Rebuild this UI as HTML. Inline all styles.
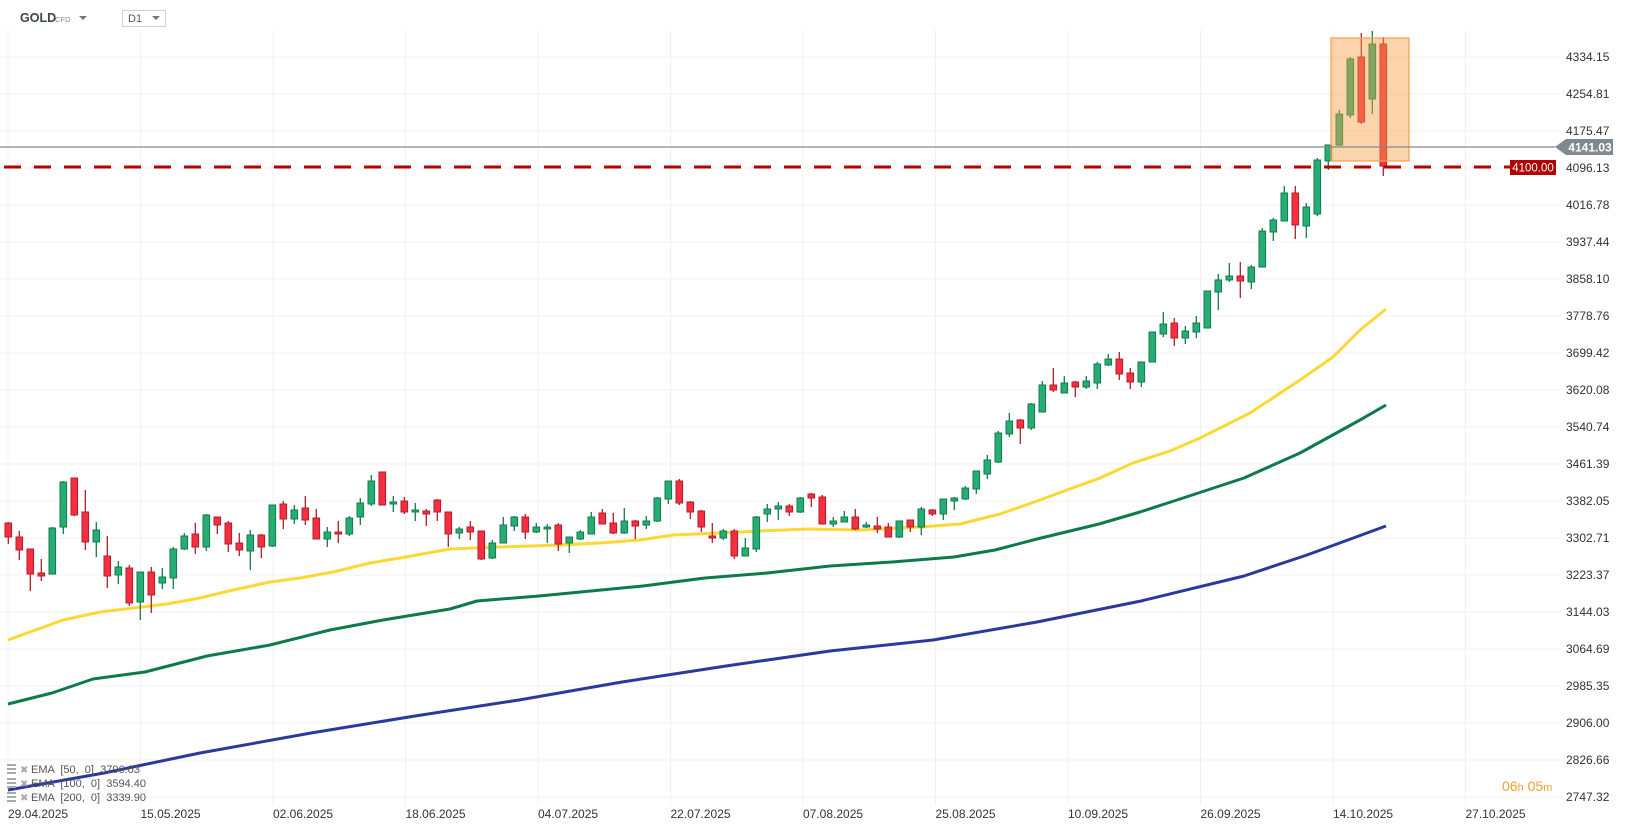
<!DOCTYPE html>
<html><head><meta charset="utf-8"><style>
html,body{margin:0;padding:0;background:#fff;}
body{width:1626px;height:831px;overflow:hidden;font-family:"Liberation Sans",sans-serif;}
svg{position:absolute;left:0;top:0;}
</style></head><body>
<svg id="c" width="1626" height="831" xmlns="http://www.w3.org/2000/svg" font-family="Liberation Sans, sans-serif"></svg>
<script>
const S=document.getElementById('c');let h='';
for(let k=0;k<=20;k++){const y=57+37*k;h+=`<line x1="0" y1="${y}" x2="1560" y2="${y}" stroke="#f0f0f0" stroke-width="1"/>`;}
for(let i=0;i<12;i++){const x=8+132.5*i;h+=`<line x1="${x}" y1="30" x2="${x}" y2="805" stroke="#f0f0f0" stroke-width="1"/>`;}
const prices=["4334.15","4254.81","4175.47","4096.13","4016.78","3937.44","3858.10","3778.76","3699.42","3620.08","3540.74","3461.39","3382.05","3302.71","3223.37","3144.03","3064.69","2985.35","2906.00","2826.66","2747.32"];
prices.forEach((p,k)=>{h+=`<text x="1566" y="${57+37*k+4}" font-size="12" fill="#333">${p}</text>`;});
const dates=["29.04.2025","15.05.2025","02.06.2025","18.06.2025","04.07.2025","22.07.2025","07.08.2025","25.08.2025","10.09.2025","26.09.2025","14.10.2025","27.10.2025"];
dates.forEach((d,i)=>{h+=`<text x="${8+132.5*i}" y="818" font-size="12" fill="#333">${d}</text>`;});
function pl(pts,c){return `<polyline points="${pts.map(p=>p.join(',')).join(' ')}" fill="none" stroke="${c}" stroke-width="3" stroke-linejoin="round"/>`;}
h+=pl([[8,790],[104,773],[200,753],[311,733],[415,716],[519,700],[622,682],[726,666],[830,651],[933,640],[1037,622],[1141,601],[1244,576],[1307,555],[1386,526]],"#2a3a9c");
h+=pl([[8,704],[52,693],[93,679],[145,672],[207,656],[270,645],[330,630],[383,620],[450,609],[477,601],[539,596],[591,591],[643,586],[705,578],[767,573],[830,566],[892,562],[954,557],[995,550],[1037,539],[1099,524],[1140,512],[1177,500],[1244,478],[1300,453],[1360,420],[1386,405]],"#0d7a4a");
h+=pl([[8,640],[41,628],[63,620],[100,612],[133,608],[167,604],[200,598],[233,590],[270,582],[300,578],[333,572],[370,563],[400,558],[450,549],[500,547],[560,545],[600,543],[640,540],[673,535],[720,533],[760,531],[807,529],[860,530],[920,527],[960,524],[1000,514],[1040,500],[1067,490],[1100,478],[1133,463],[1170,451],[1200,438],[1250,413],[1300,380],[1333,357],[1360,330],[1386,309]],"#fdd835");
const C=[[523,537,522,544],[537,550,531,560],[549,574,549,591],[573,576,559,581],[574,528,527,574],[527,482,481,534],[478,515,478,516],[512,542,490,550],[542,530,522,557],[556,576,536,588],[575,567,561,584],[568,603,565,606],[602,572,572,620],[572,595,567,613],[583,577,568,589],[578,549,547,589],[549,536,533,550],[534,547,523,554],[547,515,514,551],[517,525,517,534],[523,544,521,552],[543,550,533,556],[551,535,530,570],[535,547,534,558],[546,505,505,547],[504,519,501,529],[519,510,505,524],[508,520,496,525],[518,539,509,539],[539,532,527,547],[532,534,521,543],[534,518,516,536],[517,503,498,525],[504,481,475,506],[472,505,472,505],[504,502,496,512],[501,512,497,514],[512,510,503,521],[511,514,509,526],[500,512,499,521],[512,534,512,547],
[533,529,527,539],[527,532,521,540],[531,559,531,560],[558,543,540,559],[543,525,517,543],[526,517,516,531],[517,532,514,539],[532,527,523,533],[529,527,524,543],[525,544,523,551],[543,537,537,553],[539,532,530,540],[534,517,512,534],[513,524,509,524],[523,533,513,534],[533,521,508,534],[521,526,520,539],[525,521,516,529],[521,498,497,522],[499,481,481,504],[481,503,479,505],[502,512,501,519],[511,527,510,532],[536,538,523,543],[538,531,529,540],[531,556,529,559],[556,548,538,556],[549,517,516,552],[514,509,504,522],[509,506,502,520],[506,512,504,516],[512,498,497,513],[494,498,493,507],[497,524,495,524],[524,521,517,527],[522,517,511,522],[517,529,509,530],[527,525,522,528],[526,529,517,533],[527,537,523,537],[537,521,521,538],[520,527,520,532],
[527,509,507,535],[510,514,509,516],[514,499,499,520],[501,498,497,510],[499,488,486,500],[489,471,471,494],[474,460,455,479],[462,433,431,463],[434,421,413,437],[420,428,419,444],[428,404,403,430],[412,385,381,412],[385,390,368,392],[393,383,376,393],[382,387,381,397],[387,381,376,389],[383,364,362,389],[365,359,354,366],[359,374,352,380],[373,382,368,389],[382,362,362,387],[362,332,332,362],[334,324,312,337],[323,338,318,346],[338,331,326,344],[332,323,316,338],[328,291,291,328],[292,280,274,310],[280,276,263,282],[276,281,262,298],[282,267,265,289],[267,231,228,267],[232,220,218,241],[221,193,186,221],[193,225,186,239],[226,207,203,238],[214,160,158,216],[161,145,145,170],[145,114,110,146],[115,59,57,118],[57,122,33,124],[99,44,31,114],[44,166,37,176]];
C.forEach((c,i)=>{const x=8.3+11*i;const [o,cl,hi,lo]=c;const up=cl<=o;const f=up?"#25ad73":"#f62f40",s=up?"#147a4e":"#b01e2c";
const t=Math.min(o,cl),b=Math.max(Math.max(o,cl)-t,1.5);
h+=`<line x1="${x}" y1="${hi}" x2="${x}" y2="${lo}" stroke="${s}" stroke-width="1.3"/><rect x="${x-3.3}" y="${t}" width="6.6" height="${b}" fill="${f}" stroke="${s}" stroke-width="1"/>`;});
h+=`<rect x="1331" y="38" width="78" height="123" fill="rgba(246,160,72,0.45)" stroke="#f2a04a" stroke-width="1.2"/>`;
h+=`<line x1="0" y1="147" x2="1555" y2="147" stroke="#7f8a8f" stroke-width="1.2"/>`;
h+=`<line x1="4" y1="167" x2="1510" y2="167" stroke="#b30000" stroke-width="3" stroke-dasharray="17,13"/>`;
h+=`<rect x="1510" y="160" width="46" height="15" fill="#b30000"/><text x="1533" y="171.5" font-size="11.5" fill="#fff" text-anchor="middle">4100.00</text>`;
h+=`<path d="M1555,147 L1566,139 L1613,139 L1613,155 L1566,155 Z" fill="#7f8a8f"/><text x="1590" y="151.5" font-size="12" font-weight="bold" fill="#fff" text-anchor="middle">4141.03</text>`;
h+=`<text x="20" y="22" font-size="12.5" font-weight="bold" fill="#3a4652">GOLD</text><text x="55" y="22" font-size="7.5" fill="#888">CFD</text><path d="M79,16 L87,16 L83,20 Z" fill="#777"/>`;
h+=`<rect x="122.5" y="10.5" width="43" height="16" fill="#fff" stroke="#d0d0d0"/><text x="128" y="22" font-size="11" fill="#555">D1</text><path d="M152,16 L160,16 L156,20 Z" fill="#777"/>`;
[["EMA  [50,  0]  3796.03",772],["EMA  [100,  0]  3594.40",786],["EMA  [200,  0]  3339.90",800]].forEach(([t,y])=>{
h+=`<rect x="7" y="${y-8}" width="9" height="2" fill="#aaa"/><rect x="7" y="${y-4}" width="9" height="2" fill="#aaa"/><rect x="7" y="${y}" width="9" height="2" fill="#aaa"/><text x="20" y="${y+1}" font-size="10" fill="#aaa">✖</text><text x="31" y="${y+1}" font-size="11" fill="#555" xml:space="preserve">${t}</text>`;});
h+=`<text x="1502" y="791" fill="#f0a030" font-size="14">06<tspan font-size="11">h</tspan> 05<tspan font-size="11">m</tspan></text>`;
S.innerHTML=h;
</script>
</body></html>
